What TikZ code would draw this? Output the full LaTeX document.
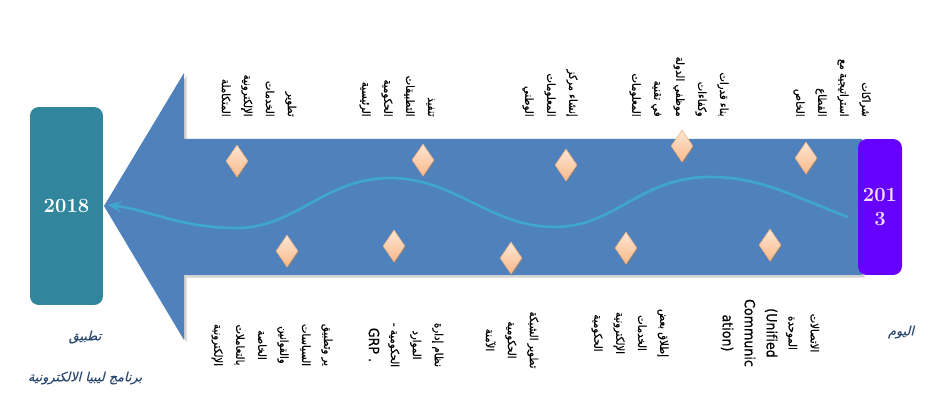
\documentclass[tikz,border=0pt]{standalone}
\usepackage{fontspec}
\usetikzlibrary{shapes.geometric,shadows,arrows.meta}
\newfontfamily\arabicfont[Script=Arabic,FakeBold=0.6]{DejaVu Sans Condensed}
\newfontfamily\arabicslant[Script=Arabic,FakeSlant=0.25,FakeBold=0.4]{DejaVu Sans}
\TeXXeTstate=1
\newcommand{\ar}[1]{\beginR #1\endR}
\newcommand{\lat}[1]{{\fontsize{8}{12.5}\selectfont #1}}
\definecolor{arrowblue}{HTML}{4F81BD}
\definecolor{endteal}{HTML}{31859C}
\definecolor{startviolet}{HTML}{6600FF}
\definecolor{peachtop}{HTML}{FDE7D4}
\definecolor{peachbot}{HTML}{F9B98A}
\definecolor{wavecolor}{HTML}{3FA7CC}
\definecolor{captioncolor}{HTML}{2C4A70}
\tikzset{
  topitem/.style={rotate=-90,anchor=east,align=right,inner sep=0pt,
    font=\arabicfont\fontsize{6.4}{12.5}\selectfont},
  botitem/.style={rotate=-90,align=center,inner sep=0pt,
    font=\arabicfont\fontsize{6.4}{12.5}\selectfont},
  stone/.style={diamond,minimum width=0.44cm,minimum height=0.64cm,inner sep=0pt,
    top color=peachtop,bottom color=peachbot,draw=peachbot!80!brown,line width=0.3pt,
    drop shadow={shadow xshift=0.6pt,shadow yshift=-1.2pt,opacity=0.5}},
  yearbox/.style={rounded corners=5pt,inner sep=0pt,text=white,
    font=\bfseries\fontsize{11.5}{13.5}\selectfont},
  caption/.style={text=captioncolor,inner sep=0pt,font=\arabicslant\fontsize{7.3}{9}\selectfont},
}
\begin{document}
\begin{tikzpicture}[x=0.02cm,y=-0.02cm]
\useasboundingbox (0,0) rectangle (933,418);

% big arrow
\fill[arrowblue,drop shadow={shadow xshift=1.5pt,shadow yshift=-1.5pt,opacity=0.35}]
  (104,206) -- (184,73) -- (184,139) -- (862,139) -- (862,275) -- (184,275) -- (184,340) -- cycle;

% years
\node[yearbox,fill=endteal,minimum width=1.46cm,minimum height=3.96cm] (end) at (66.5,206) {2018};
\node[yearbox,fill=startviolet,minimum width=0.88cm,minimum height=2.72cm,align=center,
  text=white!88!violet] (start) at (880,207) {201\\3};

% wave
\coordinate (wavestart) at (848,217);
\coordinate (waveend) at (108,205);
\draw[wavecolor,line width=1.5pt,-{Stealth[length=8pt,width=7pt,inset=3.5pt]}]
  (wavestart) .. controls (790,195) and (760,177) .. (710,177)
  .. controls (640,177) and (615,227) .. (555,227)
  .. controls (490,227) and (455,178) .. (390,178)
  .. controls (325,178) and (295,228) .. (237,228)
  .. controls (180,228) and (150,210) .. (waveend);

% milestones
\foreach \x/\y [count=\i] in {806/158,682/146,566/165,423/160,237/161}
  \node[stone] (up\i) at (\x,\y) {};
\foreach \x/\y [count=\i] in {770/245,626/248,511/258,394/246,287/251}
  \node[stone] (down\i) at (\x,\y) {};

% texts above
\node[topitem] (plan1) at (832,117) {\ar{شراكات}\\\ar{استراتيجية مع}\\\ar{القطاع}\\\ar{الخاص}};
\node[topitem] (plan2) at (679,117) {\ar{بناء قدرات}\\\ar{وكفاءات}\\\ar{موظفي الدولة}\\\ar{في تقنية}\\\ar{المعلومات}};
\node[topitem] (plan3) at (550,117) {\ar{إنشاء مركز}\\\ar{المعلومات}\\\ar{الوطني}};
\node[topitem] (plan4) at (397,117) {\ar{تنفيذ}\\\ar{التطبيقات}\\\ar{الحكومية}\\\ar{الرئيسية}};
\node[topitem] (plan5) at (259,117) {\ar{تطوير}\\\ar{الخدمات}\\\ar{الإلكترونية}\\\ar{المتكاملة}};

% texts below
\node[botitem] (task1) at (770,333) {\ar{الاتصالات}\\\ar{الموحدة}\\\lat{(Unified}\\\lat{Communic}\\\lat{ation)}};
\node[botitem] (task2) at (630,333) {\ar{إطلاق بعض}\\\ar{الخدمات}\\\ar{الإلكترونية}\\\ar{الحكومية}};
\node[botitem] (task3) at (512,340) {\ar{تطوير الشبكة}\\\ar{الحكومية}\\\ar{الآمنة}};
\node[botitem] (task4) at (406,345) {\ar{نظام إدارة}\\\ar{الموارد}\\\ar{الحكومية -}\\\lat{GRP .}};
\node[botitem] (task5) at (272,345) {\ar{ير وتطبيق}\\\ar{السياسات}\\\ar{والقوانين}\\\ar{الخاصة}\\\ar{بالتعاملات}\\\ar{الإلكترونية}};

% captions
\node[caption] (endlabel1) at (85,337) {\ar{تطبيق}};
\node[caption] (endlabel2) at (85,378) {\ar{برنامج ليبيا الالكترونية}};
\node[caption] (startlabel) at (901,332) {\ar{اليوم}};
\end{tikzpicture}
\end{document}
